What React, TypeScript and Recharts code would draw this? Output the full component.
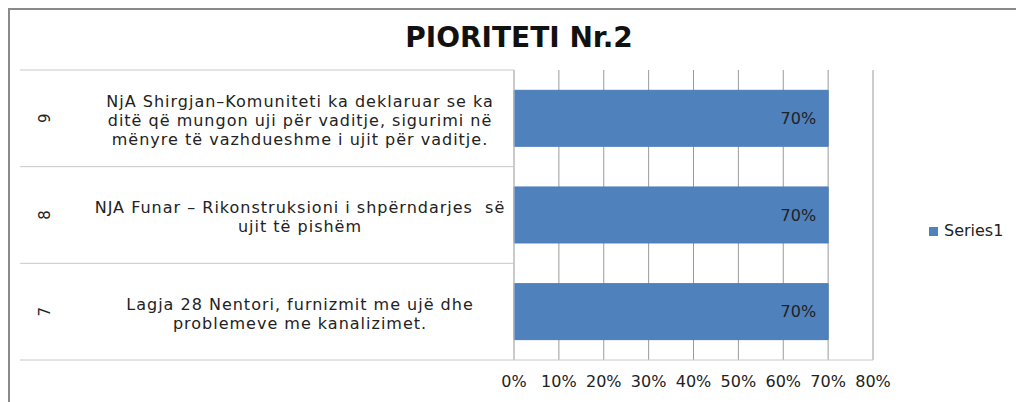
import React from 'react'
import { BarChart, Bar, XAxis, YAxis, CartesianGrid, Legend, LabelList } from 'recharts'

const codes = ['7', '8', '9']
const labels = [
  ['Lagja 28 Nentori, furnizmit me ujë dhe', 'problemeve me kanalizimet.'],
  ['NJA Funar – Rikonstruksioni i shpërndarjes  së', 'ujit të pishëm'],
  [
    'NjA Shirgjan–Komuniteti ka deklaruar se ka',
    'ditë që mungon uji për vaditje, sigurimi në',
    'mënyre të vazhdueshme i ujit për vaditje.',
  ],
]
const series1 = [0.7, 0.7, 0.7]
const xTicks = [0, 0.1, 0.2, 0.3, 0.4, 0.5, 0.6, 0.7, 0.8]

const data = codes.map((code, i) => ({ code, lines: labels[i], Series1: series1[i] }))

const FONT = 'DejaVu Sans'
const pct = (v: number) => `${Math.round(v * 100)}%`

function CategoryTick(props: any) {
  const { x, y, payload, index } = props
  const half = payload.offset || 0
  const row = data.find((d) => d.code === payload.value)
  const lines = row ? row.lines : []
  const lh = 19
  const startY = y - ((lines.length - 1) * lh) / 2 + 2
  return (
    <g>
      <line x1={20} x2={x} y1={y - half} y2={y - half} stroke="#c8c8c8" />
      {index === 0 && <line x1={20} x2={x} y1={y + half} y2={y + half} stroke="#c8c8c8" />}
      <text
        x={45}
        y={y}
        transform={`rotate(-90 45 ${y})`}
        textAnchor="middle"
        dominantBaseline="central"
        fontFamily={FONT}
        fontSize={15}
        fill="#222"
      >
        {payload.value}
      </text>
      {lines.map((l, i) => (
        <text
          key={i}
          x={x - 214}
          y={startY + i * lh}
          textAnchor="middle"
          dominantBaseline="central"
          fontFamily={FONT}
          fontSize={16}
          letterSpacing={1}
          fill="#222"
          style={{ whiteSpace: 'pre' }}
        >
          {l}
        </text>
      ))}
    </g>
  )
}

export default function App() {
  return (
    <div style={{ position: 'absolute', left: 0, top: 0, width: 1016, height: 402, background: '#fff' }}>
      <div
        style={{
          position: 'absolute',
          left: 8,
          top: 8,
          width: 1008,
          height: 394,
          borderTop: '2px solid #8a8a8a',
          borderLeft: '2px solid #8a8a8a',
          boxSizing: 'border-box',
        }}
      />
      <div
        style={{
          position: 'absolute',
          left: 0,
          top: 24,
          width: 1038,
          textAlign: 'center',
          fontFamily: FONT,
          fontWeight: 'bold',
          fontSize: 28,
          lineHeight: '28px',
          color: '#111',
        }}
      >
        PIORITETI Nr.2
      </div>
      <div style={{ position: 'absolute', left: 0, top: 0 }}>
        <BarChart
          width={1016}
          height={402}
          data={data}
          layout="vertical"
          margin={{ top: 70, right: 143, bottom: 12, left: 20 }}
          barCategoryGap="21%"
          style={{ fontFamily: FONT }}
        >
          <CartesianGrid horizontal={false} stroke="#9a9a9a" />
          <XAxis
            type="number"
            domain={[0, 0.8]}
            ticks={xTicks}
            tickFormatter={pct}
            height={30}
            axisLine={{ stroke: '#c8c8c8' }}
            tickLine={false}
            tickMargin={10}
            tick={{ fill: '#222', fontSize: 16, fontFamily: FONT }}
            interval={0}
          />
          <YAxis
            type="category"
            dataKey="code"
            reversed
            width={494}
            axisLine={{ stroke: '#c8c8c8' }}
            tickLine={false}
            tickSize={0}
            tickMargin={0}
            tick={<CategoryTick />}
            interval={0}
          />
          <Legend
            layout="horizontal"
            align="center"
            verticalAlign="middle"
            iconType="square"
            iconSize={9}
            wrapperStyle={{ left: 929, top: 221, width: 'auto', fontFamily: FONT, fontSize: 16 }}
            formatter={(v) => <span style={{ color: '#222', marginLeft: 2 }}>{v}</span>}
          />
          <Bar dataKey="Series1" fill="#4f81bd" stroke="#4a7ebb" isAnimationActive={false}>
            <LabelList
              dataKey="Series1"
              position="insideRight"
              offset={12}
              formatter={(v: any) => pct(Number(v))}
              fill="#222"
              fontSize={16}
              fontFamily={FONT}
            />
          </Bar>
        </BarChart>
      </div>
    </div>
  )
}
